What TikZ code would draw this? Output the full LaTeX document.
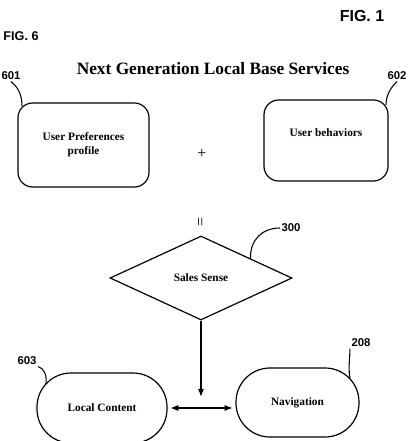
\documentclass[tikz,border=0pt]{standalone}
\usepackage{fontspec}
\setmainfont{Liberation Serif}
\newfontfamily\labelfont{Liberation Sans}
\usetikzlibrary{shapes.geometric,arrows.meta,calc}

\tikzset{
  box/.style={draw,line width=0.9pt,rounded corners=11pt,inner sep=0pt,align=center,
    font=\fontsize{8.5}{10.5}\selectfont\bfseries},
  pill/.style={box,rounded corners=25.5pt},
  dia/.style={draw,line width=0.9pt,diamond,inner sep=0pt,minimum width=136.5pt,
    minimum height=63pt,font=\fontsize{8.5}{10.5}\selectfont\bfseries},
  txt/.style={inner sep=0pt,font=\fontsize{8.5}{10.5}\selectfont\bfseries},
  sign/.style={inner sep=0pt,font=\fontsize{12}{14}\selectfont},
  ref/.style={inner sep=1pt,font=\labelfont\bfseries\fontsize{8.5}{10}\selectfont},
  lead/.style={line width=0.8pt},
  arr/.style={line width=0.9pt,-{Latex[length=6pt,width=4.5pt]}}
}

\begin{document}
\begin{tikzpicture}[x=0.75pt,y=0.75pt,yscale=-1,xscale=1]
\useasboundingbox (0,0) rectangle (409,441);

% begin part
\node[inner sep=0pt,font=\labelfont\bfseries\fontsize{12}{14}\selectfont] (fig1) at (362,16) {FIG. 1};
\node[inner sep=0pt,font=\labelfont\bfseries\fontsize{9.5}{11}\selectfont] (fig6) at (21,36) {FIG. 6};
\node[inner sep=0pt,font=\fontsize{13}{15}\selectfont\bfseries] (title) at (213,69) {Next Generation Local Base Services};

\node[box,minimum width=98.25pt,minimum height=63pt] (prefs) at (83.5,145) {User Preferences\\profile};
\node[box,minimum width=93pt,minimum height=60.75pt] (behav) at (326,140.5) {};
\node[txt] (behavtext) at (326,133) {User behaviors};
\node[sign] (plus) at (202,154) {+};

\node[sign,rotate=90] (equals) at (202,222) {=};
\node[dia] (sales) at (201,278) {Sales Sense};

\node[pill,minimum width=97.5pt,minimum height=52.5pt] (content) at (102,408) {Local Content};
\node[pill,minimum width=92.25pt,minimum height=51.75pt] (nav) at (297.5,402.5) {Navigation};

\coordinate (drop) at (201,397);
\draw[arr] (sales.south) -- (drop);
\draw[arr,{Latex[length=6pt,width=4.5pt]}-{Latex[length=6pt,width=4.5pt]},shorten <=2pt,shorten >=2pt]
  (content.east) -- (content.east -| nav.west);

% reference numbers
\node[ref] (r601) at (11,76) {601};
\draw[lead] (r601.south) .. controls (19,88) and (22,96) .. (22,106);
\node[ref] (r602) at (397,76) {602};
\draw[lead] (r602.south) .. controls (390,88) and (386,96) .. (386,105);
\node[ref] (r300) at (291,228) {300};
\draw[lead] (r300.west) .. controls (262,228) and (250,240) .. ($(sales.north)!0.54!(sales.east)$);
\node[ref] (r603) at (27,361) {603};
\draw[lead] (r603.south east) .. controls (44,368) and (47,375) .. (46,384);
\node[ref] (r208) at (361,343) {208};
\draw[lead] (r208.south west) .. controls (350,358) and (348,368) .. (350,378);

\end{tikzpicture}
\end{document}
